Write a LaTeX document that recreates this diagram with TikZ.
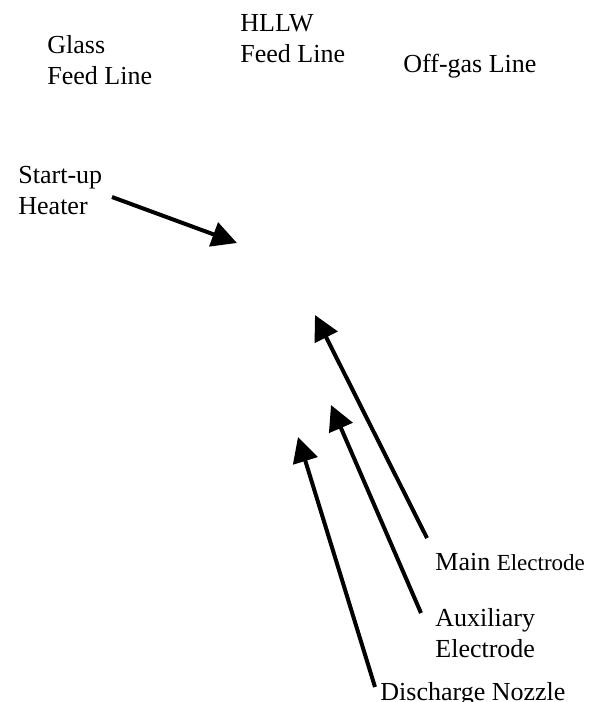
\documentclass[tikz,border=0pt]{standalone}
\usepackage{fontspec}
\setmainfont{Liberation Serif}
\usetikzlibrary{arrows.meta}

\begin{document}
\begin{tikzpicture}[x=0.5pt, y=-0.5pt,
       txt/.style={inner sep=0pt, anchor=base west, align=left,
                   font=\fontsize{13}{15.2}\selectfont},
       pointer/.style={line width=2pt, -{Triangle[length=12.5pt, width=12.5pt]}}]
              \useasboundingbox (0,0) rectangle (600,702);

              % multi-line nodes sit on the baseline of their last line
              \node[txt] (glass) at (47,84) {Glass\\Feed Line};
              \node[txt] (hllw) at (240,62) {HLLW\\Feed Line};
              \node[txt] (offgas) at (403,72) {Off-gas Line};
              \node[txt] (heater) at (18,214) {Start-up\\Heater};
              \node[txt] (mainel) at (435,570) {Main {\fontsize{11.5}{15.2}\selectfont Electrode}};
              \node[txt] (auxel) at (435,657) {Auxiliary\\Electrode};
              \node[txt] (nozzle) at (380,700) {Discharge Nozzle};

              \coordinate (heaterTail) at (112,197);
              \coordinate (heaterTip) at (237,243);
              \coordinate (mainTail) at (427,538);
              \coordinate (mainTip) at (315,315);
              \coordinate (auxTail) at (421,613);
              \coordinate (auxTip) at (331,405);
              \coordinate (nozzleTail) at (375,687);
              \coordinate (nozzleTip) at (298,437);

              \draw [pointer] (heaterTail) -- (heaterTip);
              \draw [pointer] (mainTail) -- (mainTip);
              \draw [pointer] (auxTail) -- (auxTip);
              \draw [pointer] (nozzleTail) -- (nozzleTip);
       \end{tikzpicture}
\end{document}
